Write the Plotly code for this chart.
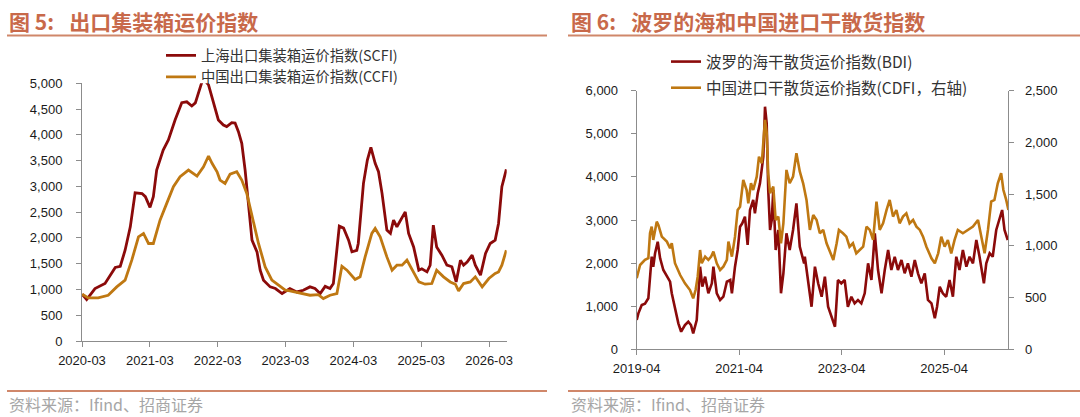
import plotly.graph_objects as go

W, H = 1080, 417

# ---------------- Left chart data: SCFI / CCFI ----------------
scfi_dates = ["2020-03-02","2020-03-26","2020-05-10","2020-07-03","2020-08-27","2020-09-23","2020-10-19","2020-11-16",
 "2020-12-12","2021-01-18","2021-02-05","2021-03-02","2021-03-20","2021-04-07","2021-05-12","2021-06-09","2021-07-15",
 "2021-08-20","2021-09-16","2021-10-13","2021-11-01","2021-11-28","2021-12-13","2022-01-11","2022-02-08","2022-03-05",
 "2022-04-01","2022-04-19","2022-05-16","2022-06-03","2022-06-21","2022-07-09","2022-07-27","2022-08-14","2022-09-02",
 "2022-09-29","2022-10-16","2022-11-03","2022-12-09","2023-01-06","2023-02-11","2023-03-25","2023-05-01","2023-06-05",
 "2023-07-11","2023-08-07","2023-09-04","2023-10-01","2023-10-27","2023-11-14","2023-12-03","2023-12-16","2024-01-08",
 "2024-02-04","2024-02-22","2024-03-19","2024-03-27","2024-04-24","2024-05-15","2024-06-03","2024-06-26","2024-07-14",
 "2024-08-02","2024-08-28","2024-09-16","2024-10-03","2024-10-21","2024-11-09","2024-12-05","2024-12-23","2025-01-19",
 "2025-02-16","2025-03-04","2025-04-01","2025-04-18","2025-05-05","2025-05-23","2025-06-20","2025-07-17","2025-08-13",
 "2025-09-05","2025-09-28","2025-10-15","2025-11-03","2025-11-30","2025-12-17","2026-01-14","2026-02-10","2026-03-07",
 "2026-04-03","2026-04-21","2026-05-09","2026-06-02"]
scfi_values = [907,804,1018,1115,1426,1450,1762,2215,
 2876,2862,2800,2592,2800,3317,3705,3900,4288,
 4624,4640,4560,4620,4968,5100,4968,4620,4288,
 4191,4160,4236,4230,4061,3835,3317,2670,1957,
 1730,1374,1180,1050,1018,921,1018,952,985,
 1050,1018,921,1060,1018,1115,1826,2228,2190,
 1957,1730,1760,1892,3058,3511,3757,3447,3284,
 2864,2151,2087,2345,2216,2345,2506,2087,1826,
 1374,1400,1341,1470,2248,1826,1665,1471,1440,
 1146,1568,1471,1530,1665,1470,1277,1698,1892,
 1957,2281,2993,3330]

ccfi_dates = ["2020-03-02","2020-04-04","2020-05-27","2020-07-20","2020-09-04","2020-10-19","2020-11-24","2020-12-30",
 "2021-01-26","2021-02-22","2021-03-20","2021-04-25","2021-05-31","2021-07-06","2021-08-11","2021-09-25","2021-11-10",
 "2021-12-15","2022-01-11","2022-01-30","2022-02-26","2022-03-14","2022-04-10","2022-05-07","2022-06-12","2022-07-09",
 "2022-08-05","2022-09-02","2022-10-07","2022-11-12","2022-12-18","2023-01-23","2023-02-28","2023-03-25","2023-05-18",
 "2023-07-11","2023-08-25","2023-09-21","2023-10-27","2023-12-03","2023-12-30","2024-01-26","2024-03-10","2024-04-06",
 "2024-05-03","2024-06-08","2024-06-26","2024-07-23","2024-08-28","2024-09-25","2024-10-21","2024-11-18","2024-12-14",
 "2025-01-11","2025-02-16","2025-03-22","2025-04-27","2025-05-23","2025-06-29","2025-08-04","2025-09-01","2025-09-18",
 "2025-10-15","2025-11-20","2025-12-17","2026-01-23","2026-02-28","2026-04-03","2026-04-21","2026-05-09","2026-06-02"]
ccfi_values = [907,836,836,888,1050,1180,1568,2021,
 2087,1892,1892,2345,2670,2993,3187,3317,3200,
 3381,3589,3447,3284,3122,3058,3239,3284,3122,
 2864,2409,1892,1438,1180,1082,985,972,933,
 888,900,824,888,920,1451,1374,1193,1245,
 1632,2087,2184,2021,1632,1374,1471,1471,1568,
 1374,1146,1102,1115,1374,1245,1146,1102,972,
 1115,1146,1245,1050,1212,1310,1340,1470,1762]

left_tick_dates = ["2020-03-01","2021-03-01","2022-03-01","2023-03-01","2024-03-01","2025-03-01","2026-03-01"]
left_tick_text = ["2020-03","2021-03","2022-03","2023-03","2024-03","2025-03","2026-03"]

# ---------------- Right chart data: BDI / CDFI ----------------
bdi_dates = ["2019-04-01","2019-04-13","2019-05-07","2019-05-30","2019-06-23","2019-07-05","2019-07-17","2019-07-28",
 "2019-08-10","2019-08-29","2019-09-15","2019-10-08","2019-11-02","2019-11-25","2019-12-07","2019-12-30","2020-01-23",
 "2020-02-12","2020-03-10","2020-04-03","2020-04-22","2020-05-08","2020-06-02","2020-06-26","2020-07-12","2020-08-01",
 "2020-08-24","2020-09-18","2020-09-29","2020-10-23","2020-11-16","2020-12-09","2021-01-03","2021-01-27","2021-02-08",
 "2021-03-02","2021-03-21","2021-04-07","2021-04-23","2021-05-12","2021-05-31","2021-06-17","2021-07-10","2021-07-22",
 "2021-08-11","2021-08-27","2021-09-09","2021-09-20","2021-10-02","2021-10-14","2021-10-25","2021-11-07","2021-11-19",
 "2021-11-30","2021-12-17","2022-01-05","2022-01-24","2022-02-10","2022-03-04","2022-03-27","2022-04-20","2022-05-14",
 "2022-06-07","2022-07-08","2022-07-13","2022-08-06","2022-08-30","2022-09-23","2022-10-16","2022-11-10","2022-12-03",
 "2022-12-26","2023-01-20","2023-02-13","2023-03-06","2023-03-30","2023-04-23","2023-05-16","2023-06-10","2023-07-03",
 "2023-07-27","2023-08-20","2023-09-13","2023-10-07","2023-10-31","2023-11-24","2023-12-17","2024-01-11","2024-02-03",
 "2024-02-27","2024-03-21","2024-04-14","2024-05-07","2024-06-01","2024-06-24","2024-07-17","2024-08-11","2024-09-04",
 "2024-09-27","2024-10-21","2024-11-14","2024-12-07","2025-01-01","2025-01-25","2025-02-10","2025-03-01","2025-03-23",
 "2025-04-16","2025-05-10","2025-06-03","2025-06-27","2025-07-20","2025-08-13","2025-09-07","2025-09-30","2025-10-24",
 "2025-11-17","2025-12-10","2026-01-10","2026-01-27","2026-02-20","2026-03-14","2026-04-08","2026-05-01","2026-05-20",
 "2026-06-06","2026-06-29"]
bdi_values = [680,835,1028,1060,1183,1684,2148,1916,
 2227,2496,2111,1840,1684,1568,1299,988,603,
 408,564,640,564,371,680,1916,1452,1684,
 1299,1531,1916,1299,1144,1220,1568,1608,1299,
 1916,2304,2844,2923,3076,2420,3232,3464,3155,
 3619,3851,4236,4468,5628,5243,3696,2768,3000,
 3696,2304,2768,1299,1763,2691,2304,2768,3387,
 2381,1995,2148,1608,988,1916,1531,1220,1684,
 988,756,524,1608,1531,1608,988,1220,1067,
 1144,1067,1299,1995,1608,2691,1840,1299,1840,
 2304,1840,2148,1840,2072,1763,1995,1684,2072,
 1763,1531,1763,1144,1067,719,988,1452,1299,
 1220,1608,1220,2148,1840,2304,1916,2148,1995,
 2536,2148,1531,1995,2227,2148,2768,3000,3232,
 2768,2536]

cdfi_dates = ["2019-04-01","2019-04-25","2019-05-30","2019-06-23","2019-07-05","2019-07-17","2019-07-28","2019-08-22",
 "2019-09-03","2019-09-27","2019-11-02","2019-11-25","2019-12-07","2019-12-30","2020-02-05","2020-03-10","2020-04-15",
 "2020-05-08","2020-05-25","2020-06-09","2020-06-26","2020-07-08","2020-08-01","2020-08-24","2020-09-13","2020-09-29",
 "2020-10-23","2020-11-16","2020-12-09","2021-01-03","2021-01-14","2021-02-08","2021-03-02","2021-03-21","2021-04-07",
 "2021-04-30","2021-05-24","2021-06-05","2021-06-24","2021-07-10","2021-08-04","2021-08-20","2021-09-09","2021-09-20",
 "2021-10-02","2021-10-14","2021-10-25","2021-11-07","2021-11-30","2021-12-17","2022-01-05","2022-01-24","2022-02-10",
 "2022-03-04","2022-03-27","2022-04-20","2022-05-14","2022-06-07","2022-07-01","2022-07-25","2022-08-18","2022-09-11",
 "2022-10-05","2022-10-28","2022-11-21","2022-12-15","2023-01-08","2023-02-01","2023-02-25","2023-03-13","2023-04-11",
 "2023-05-05","2023-05-28","2023-06-21","2023-07-15","2023-08-08","2023-09-02","2023-09-26","2023-10-19","2023-11-12",
 "2023-12-06","2023-12-29","2024-01-22","2024-02-16","2024-03-09","2024-04-02","2024-04-26","2024-05-19","2024-06-12",
 "2024-07-06","2024-07-29","2024-08-23","2024-09-16","2024-10-10","2024-11-02","2024-11-26","2025-01-01","2025-01-25",
 "2025-02-18","2025-03-12","2025-04-05","2025-04-28","2025-05-22","2025-06-15","2025-07-08","2025-08-13","2025-09-18",
 "2025-10-24","2025-11-29","2025-12-23","2026-01-15","2026-02-08","2026-03-03","2026-03-26","2026-04-19","2026-05-13",
 "2026-05-29","2026-06-18","2026-07-04"]
cdfi_values = [687,815,864,880,1122,1186,1057,1234,
 1200,1089,1041,977,1025,832,718,638,573,
 493,573,702,960,832,896,864,896,944,
 832,767,799,864,1041,896,1089,1347,1379,
 1637,1540,1412,1605,1540,1669,1862,1799,2024,
 2217,2089,1702,1509,1572,1250,1282,1025,1218,
 1734,1605,1669,1895,1720,1605,1444,1154,1299,
 1250,1122,1154,1025,944,864,1025,1154,1122,
 1089,992,1025,928,960,992,1186,1154,1057,
 1427,1154,1218,1347,1444,1283,1347,1218,1283,
 1315,1218,1250,1186,1154,1089,992,880,832,
 928,1089,992,1057,928,1057,1154,1122,1154,
 1186,1250,1089,928,1154,1427,1444,1605,1702,
 1540,1444,1347]

right_tick_dates = ["2019-04-01","2021-04-01","2023-04-01","2025-04-01"]
right_tick_text = ["2019-04","2021-04","2023-04","2025-04"]

# ---------------- Styling ----------------
RED = "#8B0A0A"
GOLD = "#BF7812"
ACCENT = "#C8694A"
RULE = "#D0876A"
AXIS = "#8C8C8C"
TICKFONT = dict(family="Liberation Sans, Arial, sans-serif", size=13, color="#1a1a1a")
CJK = "Noto Sans CJK SC"


def py(px):
    return 1 - px / H


def px_x(px):
    return px / W


fig = go.Figure()

fig.add_trace(go.Scatter(x=scfi_dates, y=scfi_values, mode="lines", name="上海出口集装箱运价指数(SCFI)",
                         line=dict(color=RED, width=2.8), xaxis="x", yaxis="y", legend="legend"))
fig.add_trace(go.Scatter(x=ccfi_dates, y=ccfi_values, mode="lines", name="中国出口集装箱运价指数(CCFI)",
                         line=dict(color=GOLD, width=2.8), xaxis="x", yaxis="y", legend="legend"))
fig.add_trace(go.Scatter(x=cdfi_dates, y=cdfi_values, mode="lines", name="中国进口干散货运价指数(CDFI，右轴)",
                         line=dict(color=GOLD, width=2.6), xaxis="x2", yaxis="y3", legend="legend2",
                         legendrank=2, legendgroup="d"))
fig.add_trace(go.Scatter(x=bdi_dates, y=bdi_values, mode="lines", name="波罗的海干散货运价指数(BDI)",
                         line=dict(color=RED, width=2.6), xaxis="x2", yaxis="y2", legend="legend2",
                         legendrank=1, legendgroup="c"))

axis_common = dict(showgrid=False, zeroline=False, showline=True, linecolor=AXIS, linewidth=1,
                   ticks="outside", tickcolor=AXIS, ticklen=5, tickfont=TICKFONT, automargin=False)

fig.update_layout(
    width=W, height=H,
    margin=dict(l=0, r=0, t=0, b=0, autoexpand=False),
    paper_bgcolor="white", plot_bgcolor="white",
    showlegend=True,
    xaxis=dict(domain=[px_x(82), px_x(506.7)], anchor="y", type="date",
               range=["2020-03-01", "2026-06-04"], tickmode="array",
               tickvals=left_tick_dates, ticktext=left_tick_text, ticklabelstandoff=2, **axis_common),
    yaxis=dict(domain=[py(341), py(83.3)], anchor="x", range=[0, 5000], tickmode="linear",
               tick0=0, dtick=500, tickformat=",d", ticklabelstandoff=11, **axis_common),
    xaxis2=dict(domain=[px_x(636.7), px_x(1008.3)], anchor="y2", type="date",
                range=["2019-04-01", "2026-07-03"], tickmode="array",
                tickvals=right_tick_dates, ticktext=right_tick_text, ticklabelstandoff=2, **axis_common),
    yaxis2=dict(domain=[py(349.3), py(90.7)], anchor="x2", range=[0, 6000], tickmode="linear",
                tick0=0, dtick=1000, tickformat=",d", ticklabelstandoff=10, **axis_common),
    yaxis3=dict(overlaying="y2", anchor="x2", side="right", range=[0, 2500], tickmode="linear",
                tick0=0, dtick=500, tickformat=",d", ticklabelstandoff=8, **axis_common),
    legend=dict(x=px_x(161), y=py(39.5), xanchor="left", yanchor="top", bgcolor="rgba(0,0,0,0)",
                font=dict(family=CJK, size=14.3, color="#333333"), itemwidth=30, tracegroupgap=0,
                traceorder="normal"),
    legend2=dict(x=px_x(666), y=py(45), xanchor="left", yanchor="top", bgcolor="rgba(0,0,0,0)",
                 font=dict(family=CJK, size=15.5, color="#333333"), itemwidth=30, tracegroupgap=3,
                 traceorder="grouped"),
)

# Title rules and source rules
for x0, x1 in [(7, 547), (568, 1080)]:
    fig.add_shape(type="line", xref="paper", yref="paper", x0=px_x(x0), x1=px_x(x1), y0=py(35.5), y1=py(35.5),
                  line=dict(color=RULE, width=2))
    fig.add_shape(type="line", xref="paper", yref="paper", x0=px_x(x0), x1=px_x(x1), y0=py(391), y1=py(391),
                  line=dict(color=RULE, width=2))

title_font = dict(family=CJK, size=21, color=ACCENT, weight="bold")
fig.add_annotation(text="图 5: \u2002出口集装箱运价指数", xref="paper", yref="paper", x=px_x(7), y=py(21),
                   xanchor="left", yanchor="middle", showarrow=False, font=title_font)
fig.add_annotation(text="图 6: \u2002波罗的海和中国进口干散货指数", xref="paper", yref="paper", x=px_x(569), y=py(21),
                   xanchor="left", yanchor="middle", showarrow=False, font=title_font)

src_font = dict(family=CJK, size=16, color="#A6A6A6")
fig.add_annotation(text="资料来源：Ifind、招商证券", xref="paper", yref="paper", x=px_x(7), y=py(404),
                   xanchor="left", yanchor="middle", showarrow=False, font=src_font)
fig.add_annotation(text="资料来源：Ifind、招商证券", xref="paper", yref="paper", x=px_x(569), y=py(404),
                   xanchor="left", yanchor="middle", showarrow=False, font=src_font)

fig.write_html("out.html")
